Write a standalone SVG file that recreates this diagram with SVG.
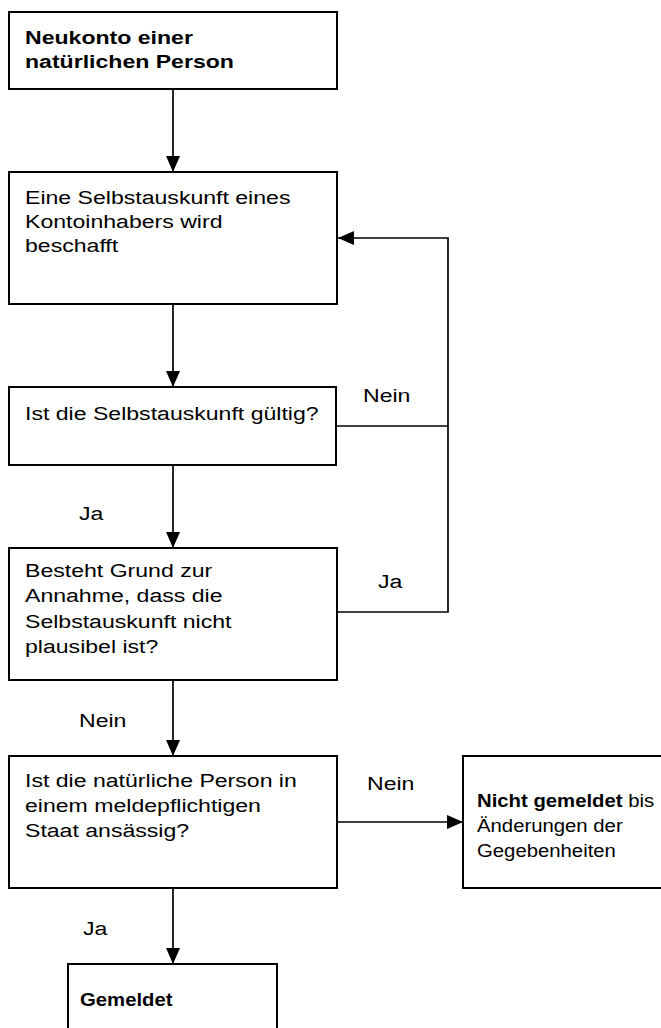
<svg xmlns="http://www.w3.org/2000/svg" width="661" height="1028" viewBox="0 0 661 1028">
<style>
.box{fill:#fff;stroke:#000;stroke-width:2}
.t{font-family:"Liberation Sans",Arial,sans-serif;font-size:19px;fill:#000}
.b{font-weight:bold}
.c{fill:none;stroke:#000;stroke-width:1.7}
</style>
<defs>
<marker id="ah" viewBox="0 0 16 14" refX="16" refY="7" markerWidth="16" markerHeight="14" markerUnits="userSpaceOnUse" orient="auto">
<path d="M0,0 L16,7 L0,14 z" fill="#000"/>
</marker>
</defs>
<rect width="661" height="1028" fill="#fff"/>
<g id="connectors">
<line class="c" x1="173" y1="89" x2="173" y2="172" marker-end="url(#ah)"/>
<line class="c" x1="173" y1="304" x2="173" y2="387" marker-end="url(#ah)"/>
<line class="c" x1="173" y1="465" x2="173" y2="548" marker-end="url(#ah)"/>
<line class="c" x1="173" y1="680" x2="173" y2="756" marker-end="url(#ah)"/>
<line class="c" x1="173" y1="888" x2="173" y2="964" marker-end="url(#ah)"/>
<line class="c" x1="337" y1="822" x2="463" y2="822" marker-end="url(#ah)"/>
<polyline class="c" points="337,426 448,426"/>
<polyline class="c" points="337,612 448,612 448,238 338,238" marker-end="url(#ah)"/>
<text class="t" transform="translate(363,402) scale(1.215,1)">Nein</text>
<text class="t" transform="translate(79,520) scale(1.215,1)">Ja</text>
<text class="t" transform="translate(378,588) scale(1.215,1)">Ja</text>
<text class="t" transform="translate(79,727) scale(1.215,1)">Nein</text>
<text class="t" transform="translate(367,790) scale(1.215,1)">Nein</text>
<text class="t" transform="translate(83,935) scale(1.215,1)">Ja</text>
</g>
<g id="n1">
<rect class="box" x="9" y="12" width="328" height="77"/>
<text class="t b" transform="translate(25,44) scale(1.215,1)"><tspan x="0">Neukonto einer</tspan><tspan x="0" dy="24">natürlichen Person</tspan></text>
</g>
<g id="n2">
<rect class="box" x="9" y="172" width="328" height="132"/>
<text class="t" transform="translate(25,204) scale(1.215,1)"><tspan x="0">Eine Selbstauskunft eines</tspan><tspan x="0" dy="24">Kontoinhabers wird</tspan><tspan x="0" dy="24">beschafft</tspan></text>
</g>
<g id="n3">
<rect class="box" x="9" y="387" width="327" height="78"/>
<text class="t" transform="translate(25,420) scale(1.215,1)">Ist die Selbstauskunft gültig?</text>
</g>
<g id="n4">
<rect class="box" x="9" y="548" width="328" height="132"/>
<text class="t" transform="translate(25,577) scale(1.215,1)"><tspan x="0">Besteht Grund zur</tspan><tspan x="0" dy="25.3">Annahme, dass die</tspan><tspan x="0" dy="25.3">Selbstauskunft nicht</tspan><tspan x="0" dy="25.3">plausibel ist?</tspan></text>
</g>
<g id="n5">
<rect class="box" x="9" y="756" width="328" height="132"/>
<text class="t" transform="translate(25,787) scale(1.215,1)"><tspan x="0">Ist die natürliche Person in</tspan><tspan x="0" dy="25">einem meldepflichtigen</tspan><tspan x="0" dy="25">Staat ansässig?</tspan></text>
</g>
<g id="n6">
<rect class="box" x="463" y="756" width="240" height="132"/>
<text class="t" transform="translate(477,807) scale(1.07,1)"><tspan x="0"><tspan class="b">Nicht gemeldet</tspan> bis</tspan><tspan x="0" dy="25">Änderungen der</tspan><tspan x="0" dy="25">Gegebenheiten</tspan></text>
</g>
<g id="n7">
<rect class="box" x="68" y="964" width="209" height="100"/>
<text class="t b" transform="translate(80,1006) scale(1.07,1)">Gemeldet</text>
</g>
</svg>
